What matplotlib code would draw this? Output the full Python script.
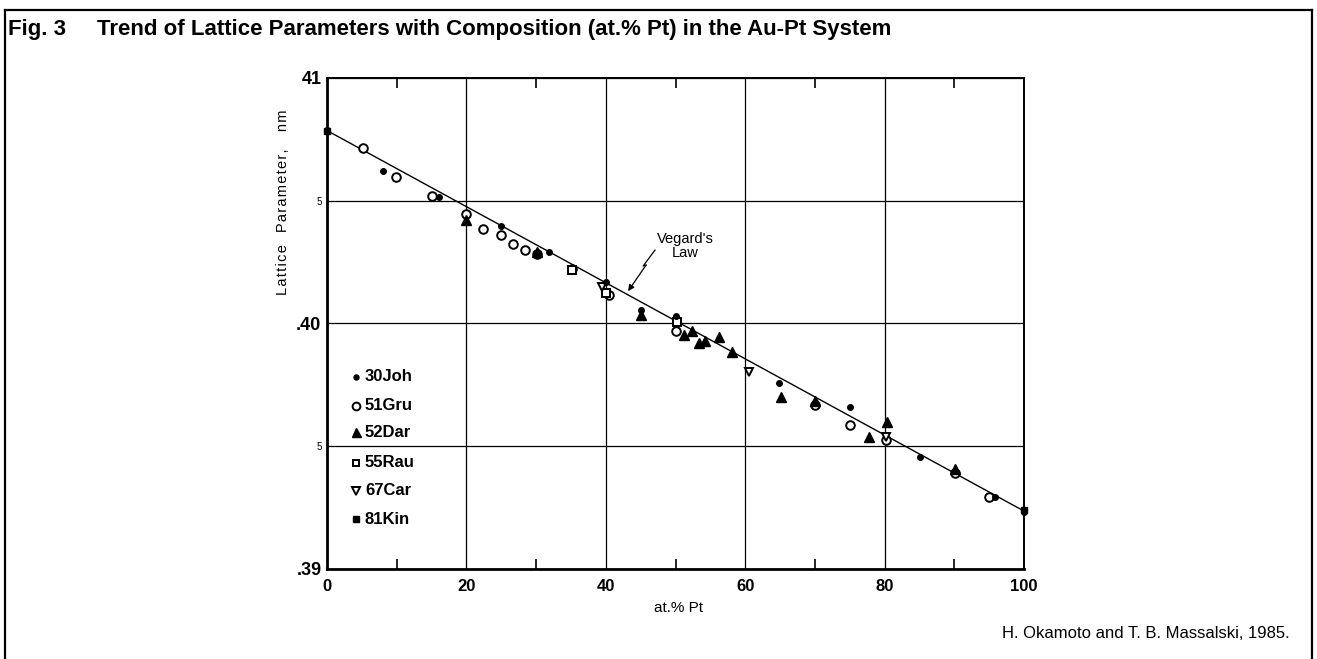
import matplotlib
matplotlib.use("Agg")
import matplotlib.pyplot as plt
from matplotlib.lines import Line2D

plt.rcParams['font.family'] = ['Liberation Sans', 'DejaVu Sans']

# ---- data (at.% Pt, lattice parameter nm) ----
joh_x = [0, 8.0, 16.1, 25.0, 31.9, 40.1, 45.1, 50.1, 64.9, 75.1, 85.1, 95.8, 100]
joh_y = [0.40788, 0.40622, 0.40514, 0.40398, 0.40292, 0.40170, 0.40057, 0.40031,
         0.39759, 0.39661, 0.39457, 0.39292, 0.39232]

gru_x = [5.1, 9.9, 15.0, 20.0, 22.4, 25.0, 26.7, 28.4, 30.1, 35.2, 40.4, 50.1,
         70.0, 75.0, 80.2, 90.1, 95.0]
gru_y = [0.40714, 0.40596, 0.40519, 0.40444, 0.40386, 0.40360, 0.40323, 0.40298,
         0.40283, 0.40222, 0.40116, 0.39971, 0.39668, 0.39587, 0.39525, 0.39393, 0.39292]

dar_x = [20.0, 30.1, 45.1, 51.2, 52.3, 53.3, 54.2, 56.3, 58.1, 65.1, 70.0, 77.8, 80.3, 90.1]
dar_y = [0.40420, 0.40292, 0.40035, 0.39953, 0.39971, 0.39922, 0.39930, 0.39946,
         0.39885, 0.39699, 0.39686, 0.39539, 0.39600, 0.39406]

rau_x = [35.2, 40.1, 50.2]
rau_y = [0.40218, 0.40125, 0.40007]

car_x = [39.5, 60.6, 80.2]
car_y = [0.40150, 0.39804, 0.39536]

kin_x = [0, 100]
kin_y = [0.40785, 0.39240]

vegard_x = [0, 100]
vegard_y = [0.40786, 0.39236]

series_labels = ['30Joh', '51Gru', '52Dar', '55Rau', '67Car', '81Kin']

xticks = [0, 20, 40, 60, 80, 100]
xminor = [10, 30, 50, 70, 90]
yticks = [0.39, 0.395, 0.40, 0.405, 0.41]
ytick_labels = ['.39', '5', '.40', '5', '41']

# arrow path for "Vegard's Law" label (data coords)
arrow_x = [47.06, 45.35, 45.78, 43.2]
arrow_y = [0.40299, 0.40234, 0.40238, 0.40132]

W, H = 1317, 659
fig = plt.figure(figsize=(W / 100, H / 100), dpi=100)
ax = fig.add_axes([327 / W, 1 - 569 / H, 697 / W, 491 / H])

# figure frame
fig.add_artist(Line2D([5 / W, 1312 / W], [1 - 10 / H, 1 - 10 / H], color='black', lw=1.6))
fig.add_artist(Line2D([5 / W, 5 / W], [0, 1 - 10 / H], color='black', lw=1.6))
fig.add_artist(Line2D([1312 / W, 1312 / W], [0, 1 - 10 / H], color='black', lw=1.6))

# Vegard line
ax.plot(vegard_x, vegard_y, color='black', lw=1.0, zorder=3)

open_kw = dict(linestyle='none', markerfacecolor='white', markeredgecolor='black',
               markeredgewidth=1.4, clip_on=False, zorder=4)
fill_kw = dict(linestyle='none', color='black', clip_on=False, zorder=5)

specs = [
    (joh_x, joh_y, 'o', 4.0, fill_kw),
    (gru_x, gru_y, 'o', 6.2, open_kw),
    (dar_x, dar_y, '^', 7.2, fill_kw),
    (rau_x, rau_y, 's', 5.4, open_kw),
    (car_x, car_y, 'v', 6.2, open_kw),
    (kin_x, kin_y, 's', 5.0, fill_kw),
]
for xs, ys, m, ms, kw in specs:
    ax.plot(xs, ys, marker=m, markersize=ms, **kw)

# arrow
ax.plot(arrow_x[:-1], arrow_y[:-1], color='black', lw=0.9, zorder=3)
ax.annotate('', xy=(arrow_x[-1], arrow_y[-1]), xytext=(arrow_x[-2], arrow_y[-2]),
            arrowprops=dict(arrowstyle='-|>', color='black', lw=0.9,
                            mutation_scale=9, shrinkA=0, shrinkB=0), zorder=3)
ax.text(51.4, 0.40316, "Vegard's\nLaw", ha='center', va='center', fontsize=10.5,
        linespacing=1.05)

# legend drawn in axes coordinates
leg_y = [0.3916, 0.3326, 0.2784, 0.2165, 0.1589, 0.1018]
for (xs, ys, m, ms, kw), lab, ly in zip(specs, series_labels, leg_y):
    kw2 = dict(kw)
    kw2['clip_on'] = False
    ax.plot([0.0409], [ly], marker=m, markersize=ms * 0.9, transform=ax.transAxes, **kw2)
    ax.text(0.0545, ly, lab, transform=ax.transAxes, ha='left', va='center',
            fontsize=12, fontweight='bold')

ax.set_xlim(0, 100)
ax.set_ylim(0.39, 0.41)
ax.set_xticks(xticks)
ax.set_xticks(xminor, minor=True)
ax.set_xticklabels([str(t) for t in xticks])
ax.set_yticks(yticks)
ax.set_yticklabels(ytick_labels)
ax.tick_params(axis='both', which='major', length=0)
ax.tick_params(axis='x', which='major', pad=7, labelsize=12)
ax.tick_params(axis='y', which='major', pad=4)
ax.tick_params(axis='x', which='minor', direction='in', length=7, width=1.2,
               top=True, bottom=True)
for lbl in ax.get_xticklabels():
    lbl.set_fontweight('bold')
for lbl, txt in zip(ax.get_yticklabels(), ytick_labels):
    if txt == '5':
        lbl.set_fontsize(7)
    else:
        lbl.set_fontsize(13)
        lbl.set_fontweight('bold')

ax.grid(True, which='major', color='black', lw=0.9)
ax.set_axisbelow(True)
for side, lw in [('left', 2.0), ('bottom', 2.0), ('top', 1.4), ('right', 1.4)]:
    ax.spines[side].set_linewidth(lw)

ylabel_text = 'Lattice  Parameter,   nm'
spaced = '\u200a'.join(ylabel_text)
fig.text(283 / W, 1 - 202 / H, spaced, rotation=90,
         ha='center', va='center', fontsize=10.5)
fig.text(679 / W, 1 - 608 / H, 'at.% Pt', ha='center', va='center', fontsize=11)

fig.text(8 / W, 1 - 30 / H, 'Fig. 3', ha='left', va='center', fontsize=16,
         fontweight='bold')
fig.text(97 / W, 1 - 30 / H,
         'Trend of Lattice Parameters with Composition (at.% Pt) in the Au-Pt System',
         ha='left', va='center', fontsize=16, fontweight='bold')
fig.text(1290 / W, 1 - 633 / H, 'H. Okamoto and T. B. Massalski, 1985.',
         ha='right', va='center', fontsize=12)

fig.savefig('out.png', dpi=100, facecolor='white')
